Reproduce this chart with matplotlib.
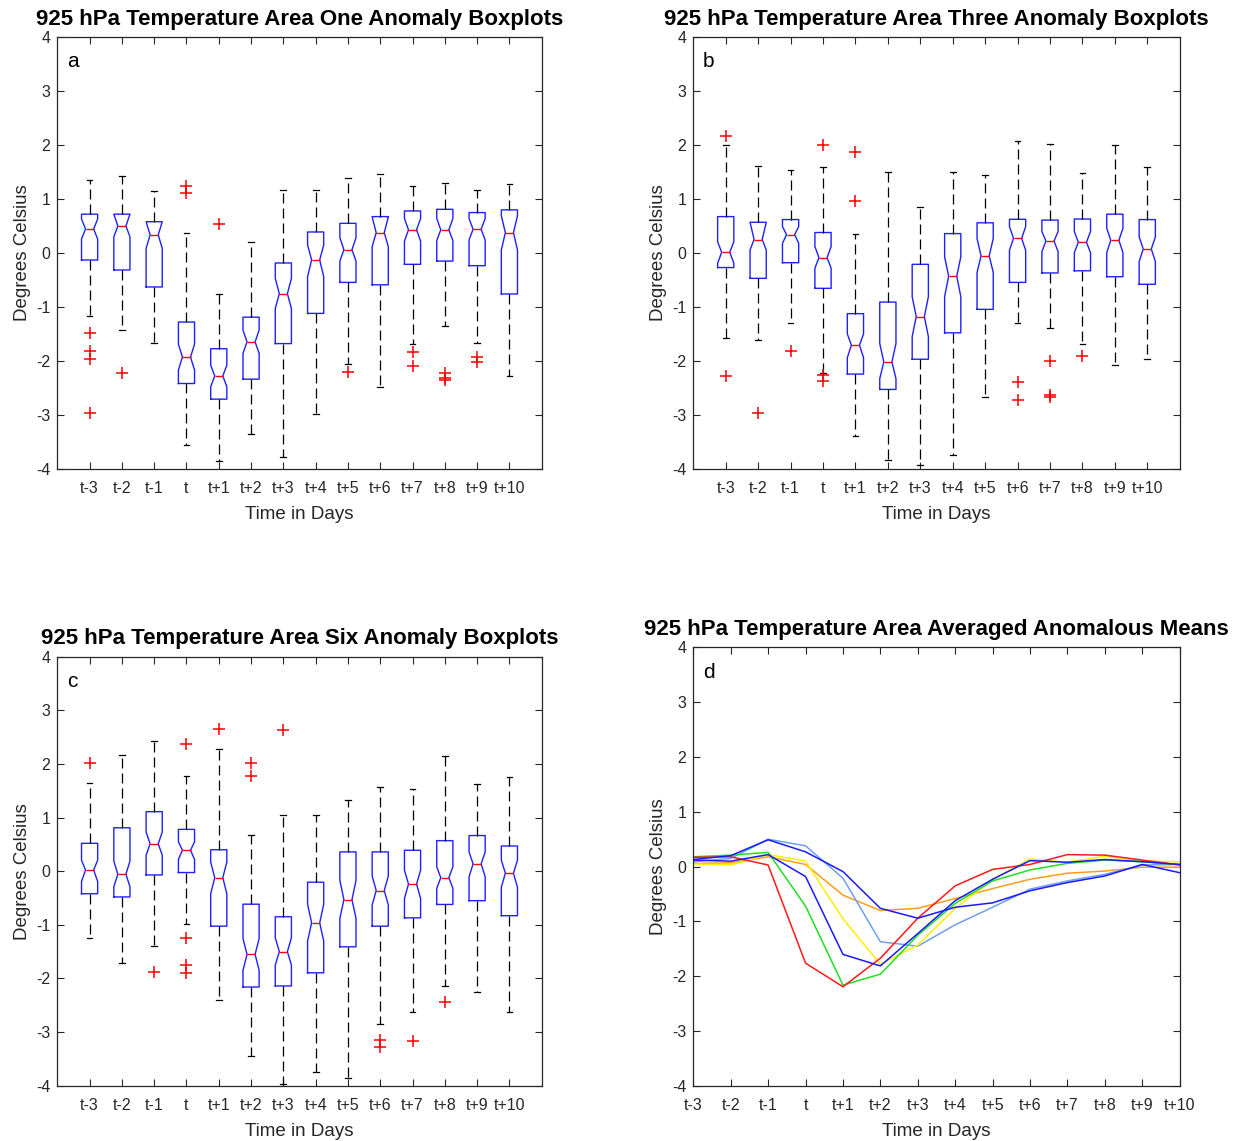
import matplotlib
matplotlib.use("Agg")
import matplotlib.pyplot as plt

plt.rcParams['font.family'] = ['Liberation Sans', 'DejaVu Sans']
plt.rcParams['axes.unicode_minus'] = False

labels = ['t-3', 't-2', 't-1', 't', 't+1', 't+2', 't+3', 't+4', 't+5', 't+6', 't+7', 't+8', 't+9', 't+10']

# ---------------- Panel a : Area One ----------------
a_hi = [1.35, 1.43, 1.15, 0.38, -0.76, 0.20, 1.17, 1.17, 1.40, 1.47, 1.24, 1.30, 1.17, 1.28]
a_q3 = [0.72, 0.72, 0.58, -1.28, -1.775, -1.19, -0.185, 0.39, 0.55, 0.675, 0.78, 0.81, 0.75, 0.80]
a_cihi = [0.63, 0.72, 0.58, -1.69, -2.08, -1.43, -0.47, 0.15, 0.285, 0.67, 0.64, 0.64, 0.64, 0.69]
a_med = [0.445, 0.50, 0.335, -1.93, -2.28, -1.65, -0.755, -0.13, 0.06, 0.377, 0.43, 0.43, 0.44, 0.377]
a_cilo = [0.26, 0.30, 0.087, -2.17, -2.48, -1.86, -1.03, -0.44, -0.15, 0.117, 0.22, 0.23, 0.24, 0.056]
a_q1 = [-0.13, -0.315, -0.63, -2.42, -2.71, -2.34, -1.68, -1.12, -0.545, -0.59, -0.21, -0.15, -0.235, -0.76]
a_lo = [-1.16, -1.42, -1.66, -3.56, -3.85, -3.35, -3.79, -2.99, -2.05, -2.48, -1.69, -1.35, -1.66, -2.28]
a_fliers = [[-1.49, -1.82, -1.97, -2.97], [-2.22], [], [1.24, 1.11], [0.54], [], [], [],
            [-2.21], [], [-1.84, -2.10], [-2.22, -2.31, -2.36], [-1.92, -2.02], []]

# ---------------- Panel b : Area Three ----------------
b_hi = [2.00, 1.61, 1.54, 1.59, 0.35, 1.51, 0.86, 1.50, 1.45, 2.08, 2.02, 1.48, 2.00, 1.59]
b_q3 = [0.675, 0.57, 0.62, 0.38, -1.125, -0.91, -0.21, 0.36, 0.56, 0.625, 0.61, 0.63, 0.72, 0.62]
b_cihi = [0.21, 0.57, 0.49, 0.12, -1.50, -1.68, -0.81, -0.07, 0.27, 0.49, 0.40, 0.40, 0.46, 0.30]
b_med = [0.012, 0.25, 0.34, -0.087, -1.71, -2.02, -1.18, -0.43, -0.056, 0.27, 0.22, 0.20, 0.235, 0.074]
b_cilo = [-0.19, 0.056, 0.18, -0.28, -1.94, -2.33, -1.55, -0.81, -0.36, 0.05, 0.025, 0.006, 0.006, -0.16]
b_q1 = [-0.27, -0.47, -0.18, -0.655, -2.245, -2.53, -1.97, -1.48, -1.045, -0.545, -0.37, -0.33, -0.44, -0.58]
b_lo = [-1.58, -1.61, -1.29, -2.22, -3.40, -3.84, -3.93, -3.75, -2.67, -1.30, -1.385, -1.69, -2.07, -1.97]
b_fliers = [[2.17, -2.28], [-2.96], [-1.81], [2.0, -2.27, -2.38], [1.87, 0.97], [], [], [], [],
            [-2.39, -2.73], [-2.0, -2.63, -2.67], [-1.91], [], []]

# ---------------- Panel c : Area Six ----------------
c_hi = [1.65, 2.17, 2.42, 1.78, 2.28, 0.67, 1.04, 1.04, 1.32, 1.57, 1.54, 2.15, 1.63, 1.75]
c_q3 = [0.52, 0.81, 1.11, 0.78, 0.40, -0.615, -0.85, -0.205, 0.36, 0.36, 0.39, 0.57, 0.665, 0.47]
c_cihi = [0.205, 0.19, 0.73, 0.55, 0.17, -1.255, -1.24, -0.615, -0.17, -0.09, 0.02, 0.08, 0.36, 0.205]
c_med = [0.02, -0.056, 0.51, 0.39, -0.12, -1.55, -1.50, -0.963, -0.53, -0.36, -0.24, -0.12, 0.137, -0.037]
c_cilo = [-0.19, -0.29, 0.30, 0.22, -0.42, -1.85, -1.75, -1.305, -0.88, -0.63, -0.51, -0.32, -0.105, -0.30]
c_q1 = [-0.42, -0.48, -0.07, -0.025, -1.025, -2.16, -2.14, -1.895, -1.41, -1.025, -0.87, -0.62, -0.55, -0.83]
c_lo = [-1.24, -1.72, -1.39, -0.99, -2.41, -3.45, -3.96, -3.75, -3.85, -2.85, -2.62, -2.14, -2.26, -2.62]
c_fliers = [[2.01], [], [-1.88], [2.38, -1.24, -1.74, -1.89], [2.65], [2.01, 1.77], [2.64], [], [],
            [-3.14, -3.28], [-3.16], [-2.44], [], []]

# ---------------- Panel d : averaged anomalous means ----------------
d_red = [0.17, 0.18, 0.03, -1.76, -2.19, -1.67, -0.94, -0.35, -0.05, 0.04, 0.22, 0.21, 0.12, 0.03]
d_green = [0.18, 0.21, 0.26, -0.72, -2.16, -1.96, -1.25, -0.67, -0.26, -0.06, 0.06, 0.12, 0.09, 0.04]
d_blue1 = [0.12, 0.10, 0.22, -0.18, -1.60, -1.81, -1.22, -0.62, -0.23, 0.11, 0.08, 0.13, 0.09, 0.04]
d_yellow = [0.05, 0.03, 0.22, 0.10, -0.95, -1.78, -1.43, -0.76, -0.23, 0.14, 0.08, 0.19, 0.10, 0.09]
d_ltblue = [0.09, 0.15, 0.50, 0.38, -0.21, -1.37, -1.45, -1.06, -0.74, -0.41, -0.26, -0.14, 0.03, 0.04]
d_orange = [0.06, 0.07, 0.18, 0.04, -0.52, -0.80, -0.76, -0.58, -0.40, -0.23, -0.12, -0.08, -0.01, -0.01]
d_blue2 = [0.13, 0.20, 0.49, 0.27, -0.09, -0.76, -0.94, -0.74, -0.66, -0.44, -0.29, -0.17, 0.04, -0.11]

AXCOL = '#262626'
W, H = 1251, 1141
fig = plt.figure(figsize=(W / 100, H / 100), dpi=100)


def px_axes(left, top, right, bottom):
    return fig.add_axes([left / W, 1 - bottom / H, (right - left) / W, (bottom - top) / H])


def style(ax, title, letter):
    ax.set_ylim(-4, 4)
    ax.set_yticks(range(-4, 5))
    ax.tick_params(axis='both', direction='in', length=5, width=0.8, colors=AXCOL,
                   labelsize=11.5, top=True, right=True)
    ax.tick_params(axis='x', pad=9)
    ax.tick_params(axis='y', pad=5)
    for s in ax.spines.values():
        s.set_color(AXCOL)
        s.set_linewidth(0.9)
    ax.set_xlabel('Time in Days', fontsize=13.5, color=AXCOL, labelpad=7)
    ax.set_ylabel('Degrees Celsius', fontsize=13.5, color=AXCOL, labelpad=3.5)
    ax.set_title(title, fontsize=16, fontweight='bold', pad=9)
    ax.text(0.02, 0.943, letter, transform=ax.transAxes, fontsize=15, va='center', ha='left')


def boxpanel(ax, hi, q3, cihi, med, cilo, q1, lo, fliers, title, letter):
    stats = []
    for i in range(len(labels)):
        stats.append(dict(label=labels[i], med=med[i], q1=q1[i], q3=q3[i], whislo=lo[i],
                          whishi=hi[i], cilo=cilo[i], cihi=cihi[i], fliers=fliers[i]))
    ax.bxp(stats, positions=list(range(1, len(labels) + 1)), widths=0.5, shownotches=True,
           showfliers=True, capwidths=0.18,
           boxprops=dict(color='#1f1fff', linewidth=1.0),
           whiskerprops=dict(color='black', linestyle=(0, (8, 4)), linewidth=0.9),
           capprops=dict(color='black', linewidth=0.9),
           medianprops=dict(color='#ff0000', linewidth=1.0),
           flierprops=dict(marker='+', markeredgecolor='#ff0000', markersize=8,
                           markeredgewidth=1.1, linestyle='none'))
    ax.set_xlim(0, 15)
    ax.set_xticks(range(1, 15))
    ax.set_xticklabels(labels)
    style(ax, title, letter)


ax_a = px_axes(57.3, 37.3, 541.7, 468.7)
boxpanel(ax_a, a_hi, a_q3, a_cihi, a_med, a_cilo, a_q1, a_lo, a_fliers,
         '925 hPa Temperature Area One Anomaly Boxplots', 'a')

ax_b = px_axes(693.3, 37.3, 1179.7, 468.7)
boxpanel(ax_b, b_hi, b_q3, b_cihi, b_med, b_cilo, b_q1, b_lo, b_fliers,
         '925 hPa Temperature Area Three Anomaly Boxplots', 'b')

ax_c = px_axes(57.3, 656.7, 541.7, 1085.7)
boxpanel(ax_c, c_hi, c_q3, c_cihi, c_med, c_cilo, c_q1, c_lo, c_fliers,
         '925 hPa Temperature Area Six Anomaly Boxplots', 'c')

ax_d = px_axes(693.3, 647.3, 1179.7, 1086.0)
xd = list(range(1, 15))
for ys, col in [(d_orange, '#ff9d1a'), (d_ltblue, '#6f9ff0'), (d_yellow, '#ffee00'),
                (d_green, '#1fe01f'), (d_red, '#ff1a1a'), (d_blue2, '#1a1aff'), (d_blue1, '#1a1aff')]:
    ax_d.plot(xd, ys, color=col, linewidth=1.1)
ax_d.set_xlim(1, 14)
ax_d.set_xticks(xd)
ax_d.set_xticklabels(labels)
style(ax_d, '925 hPa Temperature Area Averaged Anomalous Means', 'd')

fig.savefig('out.png', dpi=100)
